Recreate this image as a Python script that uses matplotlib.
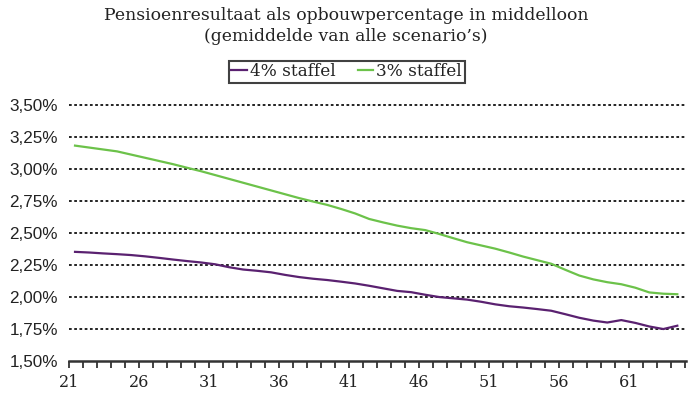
import matplotlib
matplotlib.use("Agg")
import matplotlib.pyplot as plt
import numpy as np

# leeftijden en opbouwpercentages (in %)
ages = list(range(21, 65))
staffel_4 = [2.355, 2.350, 2.343, 2.337, 2.330, 2.320, 2.308, 2.295, 2.283, 2.272,
             2.258, 2.235, 2.217, 2.207, 2.195, 2.175, 2.158, 2.145, 2.135, 2.122,
             2.108, 2.090, 2.070, 2.050, 2.040, 2.020, 2.002, 1.992, 1.982, 1.965,
             1.945, 1.930, 1.920, 1.908, 1.895, 1.868, 1.840, 1.818, 1.803, 1.822,
             1.800, 1.772, 1.752, 1.778]
staffel_3 = [3.185, 3.170, 3.155, 3.140, 3.115, 3.090, 3.065, 3.040, 3.012, 2.985,
             2.955, 2.925, 2.895, 2.865, 2.835, 2.805, 2.775, 2.748, 2.722, 2.690,
             2.655, 2.612, 2.585, 2.560, 2.540, 2.525, 2.495, 2.462, 2.430, 2.405,
             2.380, 2.350, 2.318, 2.290, 2.262, 2.215, 2.170, 2.140, 2.118, 2.102,
             2.075, 2.038, 2.028, 2.024]
y_ticks = [1.50, 1.75, 2.00, 2.25, 2.50, 2.75, 3.00, 3.25, 3.50]
title = "Pensioenresultaat als opbouwpercentage in middelloon\n(gemiddelde van alle scenario\u2019s)"

purple = "#5a2170"
green = "#6cc24a"
serif = "DejaVu Serif"
sans = "Liberation Sans"

W, H = 688, 397
fig = plt.figure(figsize=(W / 100, H / 100), dpi=100)
ax = fig.add_axes([69 / W, 1 - 361.3 / H, (686 - 69) / W, (361.3 - 105.3) / H])

ax.plot(ages, staffel_4, color=purple, lw=1.6, label="4% staffel", zorder=3)
ax.plot(ages, staffel_3, color=green, lw=1.6, label="3% staffel", zorder=3)

# categorie-as: labels staan op de tickstreepjes, lijn iets verschoven
offset = 0.43
ticks = [a - offset for a in range(21, 66)]
ax.set_xlim(ticks[0], ticks[-1] + 0.05)
ax.set_xticks(ticks)
ax.set_xticklabels([str(a) if (a - 21) % 5 == 0 else "" for a in range(21, 66)],
                   fontfamily=serif, fontsize=11.5, color="#222222")
ax.tick_params(axis="x", direction="out", length=5, width=1.3, color="#333333", pad=4)

ax.set_ylim(1.5, 3.5)
ax.set_yticks(y_ticks)
ax.set_yticklabels([f"{v:.2f}%".replace(".", ",") for v in y_ticks],
                   fontfamily=sans, fontsize=12.3, color="#222222")
ax.tick_params(axis="y", length=0, pad=8)

for v in y_ticks[1:]:
    ax.axhline(v, color="#111111", lw=1.3, ls=(0, (1.5, 1.4)), zorder=1, clip_on=False)

for s in ["top", "right", "left"]:
    ax.spines[s].set_visible(False)
ax.spines["bottom"].set_linewidth(1.8)
ax.spines["bottom"].set_color("#333333")

fig.text(346 / W, 1 - 7 / H, title, ha="center", va="top", fontfamily=serif,
         fontsize=12.4, color="#222222", linespacing=1.3)

leg = fig.legend(loc="center", bbox_to_anchor=(346.7 / W, 1 - 71.7 / H), ncol=2,
                 frameon=True, fancybox=False, handlelength=0.9, handletextpad=0.2,
                 columnspacing=1.3, borderpad=0.15, borderaxespad=0,
                 prop={"family": serif, "size": 12.2})
leg.get_frame().set_edgecolor("#111111")
leg.get_frame().set_linewidth(1.5)
for t in leg.get_texts():
    t.set_color("#222222")

fig.savefig("out.png", dpi=100)
